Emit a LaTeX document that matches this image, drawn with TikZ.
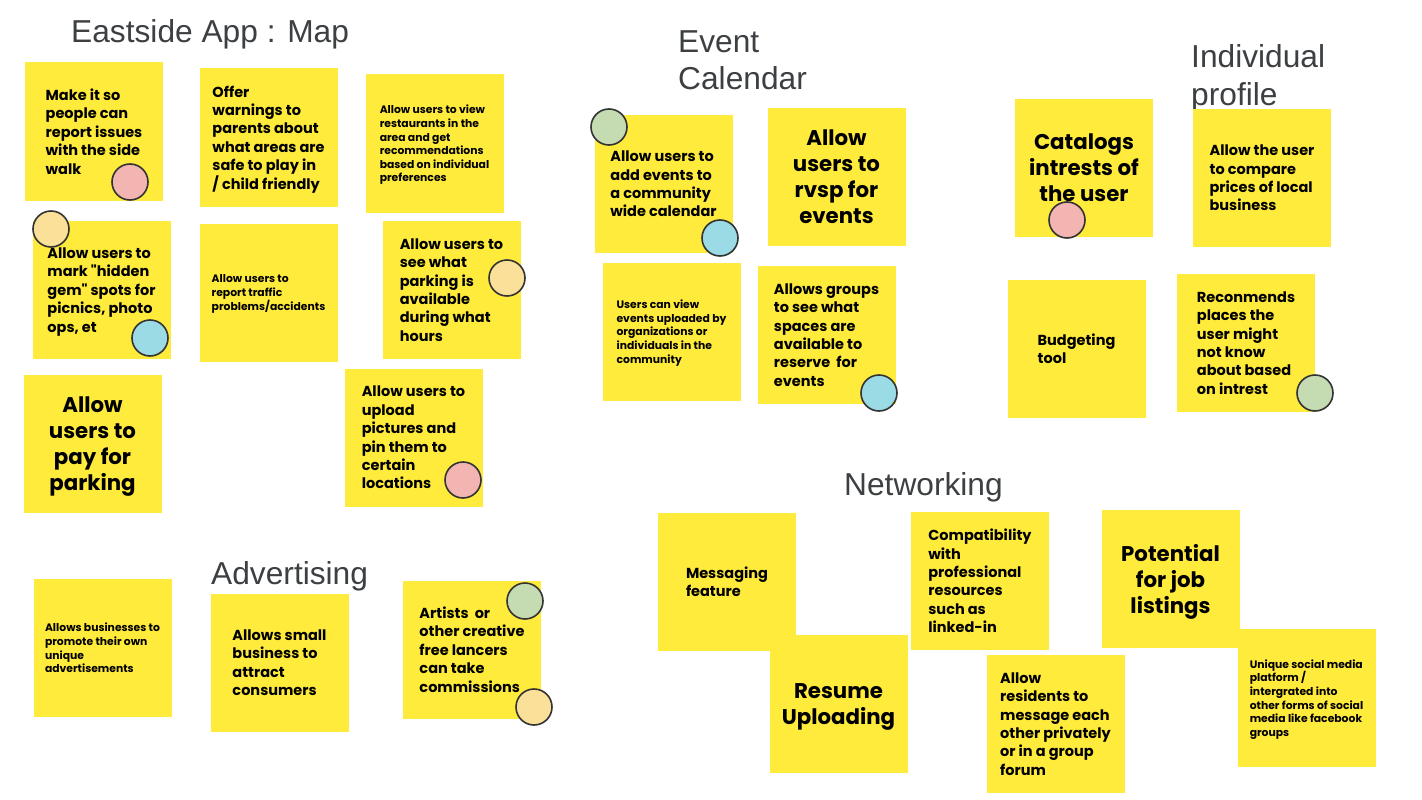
\documentclass[tikz,border=0pt]{standalone}
\usepackage{fontspec}
\newfontfamily\notefont{Poppins}
\newfontfamily\titlefont{Liberation Sans}
\newcommand\nodepth[1]{\raisebox{0pt}[\height][0pt]{#1}}
\definecolor{noteyellow}{RGB}{255,235,59}
\definecolor{titlegray}{RGB}{60,64,67}
\definecolor{dotline}{RGB}{51,51,51}
\definecolor{dotpink}{RGB}{242,181,178}
\definecolor{dotpeach}{RGB}{251,224,154}
\definecolor{dotblue}{RGB}{154,219,230}
\definecolor{dotgreen}{RGB}{197,219,178}
\begin{document}
\begin{tikzpicture}[x=1pt,y=-1pt,
  note/.style={fill=noteyellow, minimum width=138, minimum height=138, inner sep=0, align=left, text=black, font=\notefont\bfseries\fontsize{14.5}{18.4}\selectfont},
  smalltext/.style={font=\notefont\bfseries\fontsize{10.8}{13.6}\selectfont},
  bigtext/.style={align=center, font=\notefont\bfseries\fontsize{21.3}{26}\selectfont},
  dot/.style={circle, draw=dotline, line width=1.6pt, minimum size=36, inner sep=0},
  title/.style={anchor=base west, inner sep=0, text=titlegray, font=\titlefont\fontsize{31.7}{31.7}\selectfont}]
\path[use as bounding box, fill=white] (0,0) rectangle (1422,800);

% titles
\node[title] (tmap) at (71,43) {Eastside App : Map};
\node[title] (tev1) at (678,53) {Event};
\node[title] (tev2) at (678,89) {Calendar};
\node[title] (tind1) at (1191,68) {Individual};
\node[title] (tind2) at (1191,106) {profile};
\node[title] (tnet) at (844,495) {Networking};
\node[title] (tadv) at (211,584) {Advertising};

% Map notes
\node[note] (n1) at (94,131.5) {Make it so\\people can\\report issues\\with the side\\walk};
\node[note] (n2) at (268.5,137.5) {Offer\\warnings to\\parents about\\what areas are\\safe to play in\\\nodepth{/ child friendly}};
\node[note, smalltext] (n3) at (434.5,143.5) {Allow users to view\\restaurants in the\\area and get\\recommendations\\based on individual\\\nodepth{preferences}};
\node[note] (n4) at (101.5,290) {Allow users to\\mark "hidden\\gem" spots for\\picnics, photo\\\nodepth{ops, et}};
\node[note, smalltext] (n5) at (268.5,292.5) {Allow users to\\report traffic\\\nodepth{problems/accidents}};
\node[note] (n6) at (451.5,290) {Allow users to\\see what\\parking is\\available\\during what\\hours};
\node[note, bigtext] (n7) at (92.5,444) {Allow\\users to\\pay for\\\nodepth{parking}};
\node[note] (n8) at (413.5,437.5) {Allow users to\\upload\\pictures and\\pin them to\\certain\\locations};

% Advertising notes
\node[note, smalltext] (n9) at (102.5,648) {Allows businesses to\\promote their own\\unique\\advertisements};
\node[note] (n10) at (279.5,662.5) {Allows small\\business to\\attract\\consumers};
\node[note] (n11) at (472,649.5) {Artists\ \ or\\other creative\\free lancers\\can take\\commissions};

% Event calendar notes
\node[note] (n12) at (663.5,184) {Allow users to\\add events to\\a community\\wide calendar};
\node[note, bigtext] (n13) at (836.5,176.5) {Allow\\users to\\rvsp for\\events};
\node[note, smalltext] (n14) at (671.5,331.5) {Users can view\\events uploaded by\\organizations or\\individuals in the\\\nodepth{community}};
\node[note] (n15) at (826.5,335) {Allows groups\\to see what\\spaces are\\available to\\reserve\ \ for\\events};

% Individual profile notes
\node[note, bigtext] (n16) at (1084,168) {Catalogs\\intrests of\\the user};
\node[note] (n17) at (1262,178) {Allow the user\\to compare\\prices of local\\business};
\node[note] (n18) at (1076.5,348.5) {Budgeting\\tool};
\node[note] (n19) at (1246,343) {Reconmends\\places the\\user might\\not know\\about based\\on intrest};

% Networking notes
\node[note] (n20) at (727,582) {Messaging\\feature};
\node[note, bigtext] (n21) at (838.5,704) {Resume\\\nodepth{Uploading}};
\node[note] (n22) at (980,581) {Compatibility\\with\\professional\\resources\\such as\\linked-in};
\node[note] (n23) at (1055.5,724) {Allow\\residents to\\message each\\other privately\\or in a group\\forum};
\node[note, bigtext] (n24) at (1170.5,578.5) {Potential\\for job\\\nodepth{listings}};
\node[note, smalltext] (n25) at (1306.5,698) {Unique social media\\platform /\\intergrated into\\other forms of social\\media like facebook\\\nodepth{groups}};

% dots
\node[dot, fill=dotpink] (d1) at (130,182) {};
\node[dot, fill=dotpeach] (d2) at (51,229) {};
\node[dot, fill=dotblue] (d3) at (150,338) {};
\node[dot, fill=dotpeach] (d4) at (507,278) {};
\node[dot, fill=dotpink] (d5) at (463,480) {};
\node[dot, fill=dotgreen] (d6) at (525,601) {};
\node[dot, fill=dotpeach] (d7) at (534,707) {};
\node[dot, fill=dotgreen] (d8) at (609,127) {};
\node[dot, fill=dotblue] (d9) at (720,238) {};
\node[dot, fill=dotblue] (d10) at (879,393) {};
\node[dot, fill=dotpink] (d11) at (1067,220) {};
\node[dot, fill=dotgreen] (d12) at (1315,393) {};
\end{tikzpicture}
\end{document}
